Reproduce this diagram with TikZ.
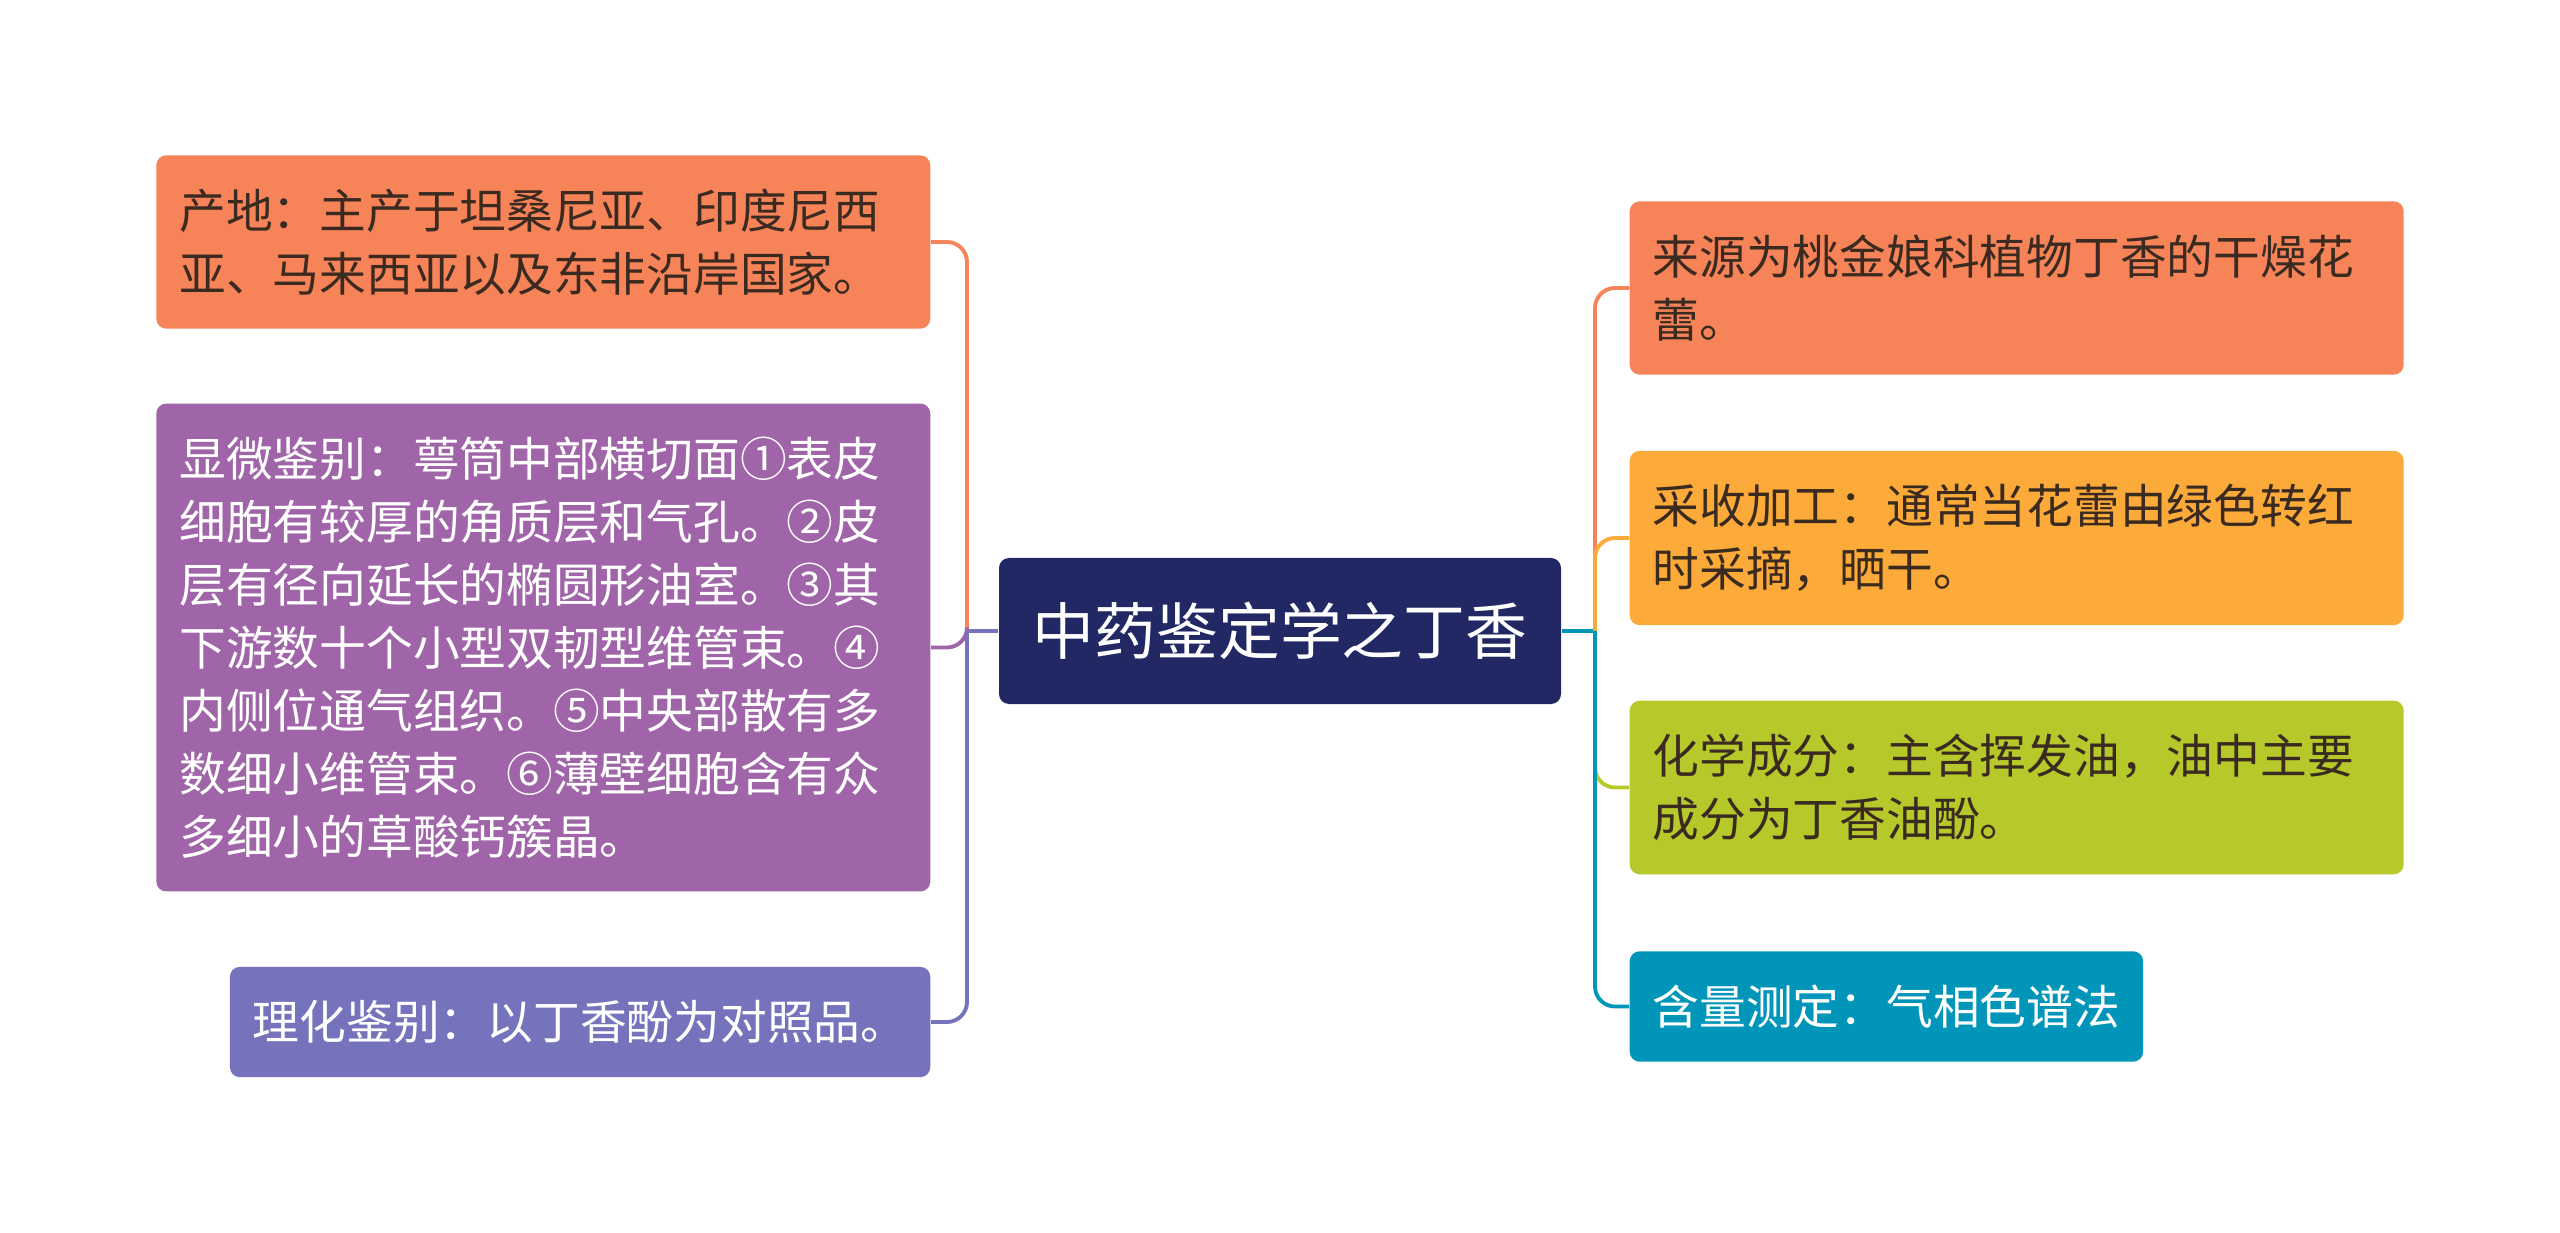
\documentclass[tikz,border=0pt]{standalone}
\usepackage{fontspec}
\setmainfont{Noto Sans CJK SC}
\usepackage{xcolor}
\definecolor{rootnavy}{RGB}{33,40,100}
\definecolor{leaforange}{RGB}{247,131,89}
\definecolor{leafpurple}{RGB}{160,100,168}
\definecolor{leaflilac}{RGB}{117,115,187}
\definecolor{leafamber}{RGB}{252,170,57}
\definecolor{leaflime}{RGB}{182,200,42}
\definecolor{leafteal}{RGB}{1,150,185}
\definecolor{darktext}{RGB}{58,42,32}
\usepackage{tikz}

\begin{document}
\begin{tikzpicture}[
  font=\fontsize{13.3}{17.9}\selectfont,
  % --- map style: edit visual look here --------------------------------
  rootbox/.style={fill=rootnavy, text=white, font=\fontsize{17.6}{20}\selectfont,
                  rounded corners=1mm, minimum width=5.62cm, minimum height=1.46cm},
  leaf/.style={rounded corners=1mm, inner xsep=2.3mm, inner ysep=3.35mm,
               align=left},
  wideleaf/.style={leaf, text width=7.28cm},
  conn/.style={line width=1.1pt, rounded corners=2mm},
  % ---------------------------------------------------------------------
]
  \useasboundingbox (0,0) rectangle (25.6,-12.33);

  % Root
  \node[rootbox] (root) at (12.80,-6.31) {中药鉴定学之丁香};

  % Left branches
  \node[wideleaf, fill=leaforange, text=darktext, anchor=east] (chandi) at (9.31,-2.42)
    {产地：主产于坦桑尼亚、印度尼西\\亚、马来西亚以及东非沿岸国家。};
  \node[wideleaf, fill=leafpurple, text=white, anchor=east] (xianwei) at (9.31,-6.475)
    {显微鉴别：萼筒中部横切面①表皮\\细胞有较厚的角质层和气孔。②皮\\层有径向延长的椭圆形油室。③其\\下游数十个小型双韧型维管束。④\\内侧位通气组织。⑤中央部散有多\\数细小维管束。⑥薄壁细胞含有众\\多细小的草酸钙簇晶。};
  \node[leaf, fill=leaflilac, text=white, anchor=east] (lihua) at (9.31,-10.22)
    {理化鉴别：以丁香酚为对照品。};

  % Right branches
  \node[wideleaf, fill=leaforange, text=darktext, anchor=west] (laiyuan) at (16.29,-2.88)
    {来源为桃金娘科植物丁香的干燥花\\蕾。};
  \node[wideleaf, fill=leafamber, text=darktext, anchor=west] (caishou) at (16.29,-5.38)
    {采收加工：通常当花蕾由绿色转红\\时采摘，晒干。};
  \node[wideleaf, fill=leaflime, text=darktext, anchor=west] (huaxue) at (16.29,-7.875)
    {化学成分：主含挥发油，油中主要\\成分为丁香油酚。};
  \node[leaf, fill=leafteal, text=white, anchor=west] (hanliang) at (16.29,-10.065)
    {含量测定：气相色谱法};

  % Connectors
  \coordinate (lj) at (9.67,-6.31);
  \coordinate (rj) at (15.95,-6.31);
  \draw[conn, leaflilac] (root.west) -- (lj);
  \draw[conn, leaforange] (lj) |- (chandi.east);
  \draw[conn, leafpurple] (lj) |- (xianwei.east);
  \draw[conn, leaflilac] (lj) |- (lihua.east);

  \draw[conn, leafteal] (root.east) -- (rj);
  \draw[conn, leaforange] (rj) |- (laiyuan.west);
  \draw[conn, leafamber] (rj) |- (caishou.west);
  \draw[conn, leaflime] (rj) |- (huaxue.west);
  \draw[conn, leafteal] (rj) |- (hanliang.west);
\end{tikzpicture}
\end{document}
